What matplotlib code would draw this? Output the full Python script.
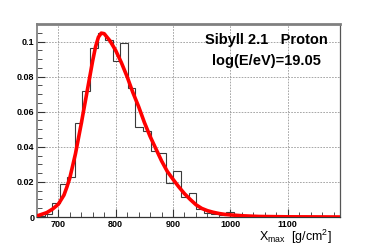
import numpy as np
import matplotlib
matplotlib.use("Agg")
import matplotlib.pyplot as plt
from matplotlib.ticker import MultipleLocator

# Xmax distribution, 40 bins from 663 to 1191 g/cm2
hist_start = 663.0
bin_width = 13.2
hist_values = [0.0005, 0.0017, 0.008, 0.019, 0.023, 0.0536, 0.0716, 0.0963,
               0.1048, 0.101, 0.089, 0.099, 0.0735, 0.0514, 0.0489, 0.0375,
               0.0366, 0.0195, 0.026, 0.0116, 0.0139, 0.0047, 0.0021, 0.0015,
               0.001, 0.003, 0.0015, 0.0005, 0.0, 0.0, 0.0, 0.0,
               0.0008, 0.0, 0.0, 0.0008, 0.0008, 0.0008, 0.0, 0.0]

# fitted curve
fit_x = [663, 680, 690, 700, 710, 715, 720, 730, 740, 750, 760, 765, 770, 775,
         780, 790, 800, 810, 820, 830, 840, 850, 860, 870, 880, 890, 900, 910,
         920, 930, 940, 950, 960, 970, 980, 990, 1000, 1020, 1050, 1100, 1191]
fit_y = [0.0006, 0.0025, 0.0045, 0.0072, 0.0125, 0.017, 0.022, 0.036, 0.053,
         0.071, 0.089, 0.097, 0.1025, 0.1048, 0.1045, 0.1005, 0.095, 0.088,
         0.080, 0.071, 0.063, 0.054, 0.046, 0.039, 0.032, 0.026, 0.0215,
         0.0172, 0.0133, 0.0100, 0.0070, 0.0049, 0.0036, 0.0027, 0.002,
         0.0015, 0.0012, 0.0007, 0.0003, 0.0001, 0.0]

x_ticks = [700, 800, 900, 1000, 1100]
y_ticks = [0, 0.02, 0.04, 0.06, 0.08, 0.1]
y_ticklabels = ["0", "0.02", "0.04", "0.06", "0.08", "0.1"]

plt.rcParams["font.family"] = ["Liberation Sans", "DejaVu Sans"]
plt.rcParams["mathtext.fontset"] = "custom"
plt.rcParams["mathtext.rm"] = "Liberation Sans"

fig = plt.figure(figsize=(3.82, 2.47), dpi=100)
ax = fig.add_axes([37 / 382, 1 - 217 / 247, (340 - 37) / 382, (217 - 24) / 247])

edges = hist_start + bin_width * np.arange(len(hist_values) + 1)
ax.stairs(hist_values, edges, color="#3a3a3a", linewidth=0.8, zorder=2)
ax.plot(fit_x, fit_y, color="#ff0000", linewidth=2.6, zorder=3,
        solid_capstyle="butt")

ax.set_xlim(hist_start, edges[-1])
ax.set_ylim(0, 0.11)

ax.set_xticks(x_ticks)
ax.set_xticklabels([str(v) for v in x_ticks], fontsize=6.5, fontweight="bold")
ax.set_yticks(y_ticks)
ax.set_yticklabels(y_ticklabels, fontsize=6.5, fontweight="bold")
ax.xaxis.set_minor_locator(MultipleLocator(20))
ax.yaxis.set_minor_locator(MultipleLocator(0.005))
ax.tick_params(which="major", direction="in", length=6, width=0.8,
               color="#333333", pad=2)
ax.tick_params(which="minor", direction="in", length=3.5, width=0.6,
               color="#333333")

ax.grid(True, which="major", color="#999999", linestyle=(0, (2, 1.5)),
        linewidth=0.6)
ax.set_axisbelow(True)

ax.spines["top"].set_color("#808080")
ax.spines["top"].set_linewidth(2.0)
ax.spines["left"].set_color("#8a8a8a")
ax.spines["left"].set_linewidth(1.4)
ax.spines["right"].set_color("#555555")
ax.spines["right"].set_linewidth(0.9)
ax.spines["bottom"].set_color("#333333")
ax.spines["bottom"].set_linewidth(0.9)

fig.text(266 / 382, 1 - 40 / 247, "Sibyll 2.1   Proton", fontsize=10.5,
         fontweight="bold", ha="center", va="center")
fig.text(266 / 382, 1 - 61 / 247, "log(E/eV)=19.05", fontsize=10.5,
         fontweight="bold", ha="center", va="center")

fig.text(332 / 382, 1 - 237 / 247, r"X$_{\rm max}$  [g/cm$^{2}$]",
         fontsize=9, ha="right", va="center")

fig.savefig("out.png", dpi=100, facecolor="white")
